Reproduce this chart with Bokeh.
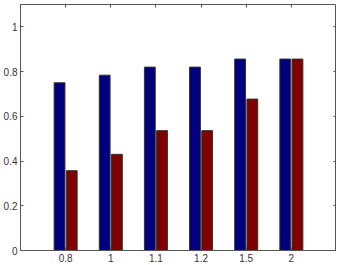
from bokeh.plotting import figure
from bokeh.models import FactorRange, Range1d, LinearAxis, CategoricalAxis, FixedTicker, ColumnDataSource
from bokeh.transform import dodge
from bokeh.embed import file_html
from bokeh.resources import INLINE

categories = ["0.8", "1", "1.1", "1.2", "1.5", "2"]
series_a = [0.75, 0.784, 0.82, 0.82, 0.856, 0.856]
series_b = [0.357, 0.43, 0.536, 0.536, 0.677, 0.856]
y_ticks = [0, 0.2, 0.4, 0.6, 0.8, 1]

src = ColumnDataSource(dict(cat=categories, a=series_a, b=series_b))

x_range = FactorRange(factors=categories, range_padding=0.5, range_padding_units="absolute")
p = figure(width=336, height=264, x_range=x_range, y_range=Range1d(0, 1.1),
           output_backend="svg", toolbar_location=None,
           min_border_left=0, min_border_right=0, min_border_top=0, min_border_bottom=0)

p.vbar(x=dodge("cat", -0.135, range=x_range), top="a", width=0.24, source=src,
       fill_color="#00007F", line_color="#333333", line_width=1)
p.vbar(x=dodge("cat", 0.135, range=x_range), top="b", width=0.24, source=src,
       fill_color="#7F0000", line_color="#333333", line_width=1)

p.xgrid.visible = False
p.ygrid.visible = False
p.background_fill_color = "white"
p.outline_line_color = "#555555"
p.outline_line_width = 1

font = "Liberation Sans"
lab_color = "#333333"

for ax in p.xaxis:
    ax.major_tick_in = 3
    ax.major_tick_out = 0
    ax.minor_tick_out = 0
    ax.axis_line_color = "#555555"
    ax.major_tick_line_color = "#555555"
    ax.major_label_text_font = font
    ax.major_label_text_font_size = "10px"
    ax.major_label_text_color = lab_color
    ax.major_label_standoff = 3

for ax in p.yaxis:
    ax.ticker = FixedTicker(ticks=y_ticks)
    ax.major_tick_in = 3
    ax.major_tick_out = 0
    ax.minor_tick_out = 0
    ax.minor_tick_line_color = None
    ax.axis_line_color = "#555555"
    ax.major_tick_line_color = "#555555"
    ax.major_label_text_font = font
    ax.major_label_text_font_size = "10px"
    ax.major_label_text_color = lab_color
    ax.major_label_standoff = 3
    ax.major_label_overrides = {0: "0", 1: "1"}

top_ax = CategoricalAxis(major_tick_in=3, major_tick_out=0, minor_tick_out=0, axis_line_color=None,
                         major_tick_line_color="#555555", major_label_text_font_size="1px",
                         major_label_standoff=0,
                         major_label_overrides={c: "" for c in categories})
p.add_layout(top_ax, "above")
right_ax = LinearAxis(ticker=FixedTicker(ticks=y_ticks), major_tick_in=3, major_tick_out=0,
                      minor_tick_out=0, minor_tick_line_color=None, axis_line_color=None,
                      major_tick_line_color="#555555", major_label_text_font_size="1px",
                      major_label_standoff=0,
                      major_label_overrides={t: "" for t in y_ticks})
p.add_layout(right_ax, "right")

open("out.html", "w").write(file_html(p, INLINE))
